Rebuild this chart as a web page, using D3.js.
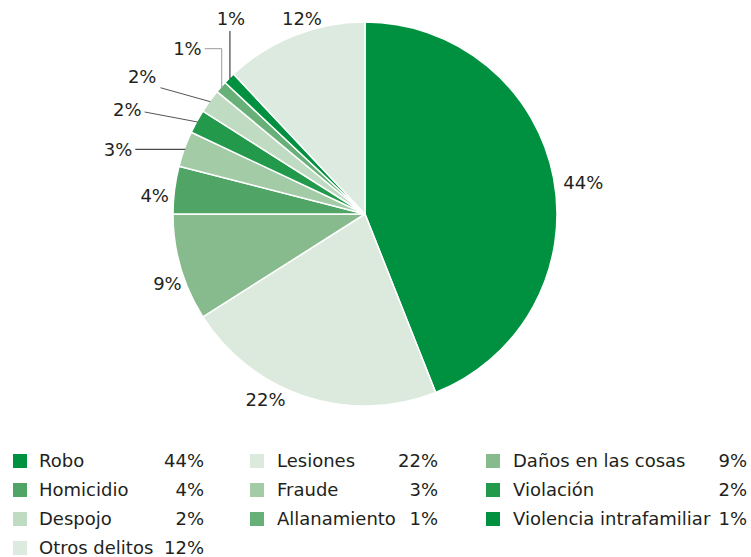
<!DOCTYPE html>
<html>
<head>
<meta charset="utf-8">
<script src="https://cdn.jsdelivr.net/npm/d3@7/dist/d3.min.js"></script>
<style>
  html, body { margin: 0; padding: 0; background: #ffffff; }
  svg { display: block; }
  text { font-family: "DejaVu Sans", sans-serif; font-size: 18px; fill: #231f20; }
</style>
</head>
<body>
<svg id="chart" width="751" height="557"></svg>
<script>
// Crime categories and their shares (%)
const categories = ["Robo", "Lesiones", "Daños en las cosas", "Homicidio", "Fraude",
  "Violación", "Despojo", "Allanamiento", "Violencia intrafamiliar", "Otros delitos"];
const shares = [44, 22, 9, 4, 3, 2, 2, 1, 1, 12];
const colors = ["#009140", "#dbeadd", "#87bb8e", "#50a566", "#a2cba6",
  "#23994c", "#bfdcc2", "#67b077", "#009140", "#dceadf"];

const data = categories.map((c, i) => ({ name: c, value: shares[i], color: colors[i] }));

const svg = d3.select("#chart");
const cx = 365, cy = 214, radius = 192;

const pie = d3.pie().value(d => d.value).sort(null);
const arcs = pie(data);

const arc = d3.arc().innerRadius(0).outerRadius(radius);
const labelArc = d3.arc().innerRadius(212).outerRadius(212);
const edgeArc = d3.arc().innerRadius(radius - 1).outerRadius(radius - 1);

const g = svg.append("g").attr("transform", `translate(${cx},${cy})`);

g.selectAll("path.slice")
  .data(arcs)
  .join("path")
  .attr("class", "slice")
  .attr("d", arc)
  .attr("fill", d => d.data.color)
  .attr("stroke", "#ffffff")
  .attr("stroke-width", 1.5)
  .attr("stroke-linejoin", "round");

// Label placement: small offsets for direct labels, leader paths for thin slices
const nudges = {
  "Robo": [10, 8], "Lesiones": [-34, -16], "Daños en las cosas": [6, 10],
  "Homicidio": [0, 8], "Otros delitos": [15, 2]
};
const leaders = {
  "Fraude": { pts: [[-50, 0]], anchor: "end", tdx: -3, tdy: 0, stroke: "#231f20" },
  "Violación": { pts: [[-53, -10]], anchor: "end", tdx: -3, tdy: -3, stroke: "#555" },
  "Despojo": { pts: [[-50, -14]], anchor: "end", tdx: -4, tdy: -11, stroke: "#555" },
  "Allanamiento": { pts: [[0, -39], [-17, -39]], anchor: "end", tdx: -3, tdy: 0, stroke: "#999" },
  "Violencia intrafamiliar": { pts: [[0, -48]], anchor: "middle", tdx: 1, tdy: -12, stroke: "#231f20" }
};

arcs.forEach(d => {
  const label = d.data.value + "%";
  const L = leaders[d.data.name];
  if (L) {
    const [sx, sy] = edgeArc.centroid(d);
    const pts = [[sx, sy]].concat(L.pts.map(p => [sx + p[0], sy + p[1]]));
    g.append("path")
      .attr("d", d3.line()(pts))
      .attr("fill", "none")
      .attr("stroke", L.stroke)
      .attr("stroke-width", 1);
    const end = pts[pts.length - 1];
    g.append("text")
      .attr("x", end[0] + L.tdx)
      .attr("y", end[1] + L.tdy)
      .attr("text-anchor", L.anchor)
      .attr("dominant-baseline", "central")
      .text(label);
  } else {
    const [x, y] = labelArc.centroid(d);
    const n = nudges[d.data.name] || [0, 0];
    g.append("text")
      .attr("x", x + n[0])
      .attr("y", y + n[1])
      .attr("text-anchor", "middle")
      .attr("dominant-baseline", "central")
      .text(label);
  }
});

// Legend: three columns, filled row by row
const colMarker = [13, 250, 486];
const colText = [39, 277, 513];
const colValue = [204, 438, 747];
const rowY = d3.scaleLinear().domain([0, 1]).range([467, 496]);

const legend = svg.append("g");
data.forEach((d, i) => {
  const col = i % 3, row = Math.floor(i / 3);
  const y = rowY(row);
  legend.append("rect")
    .attr("x", colMarker[col]).attr("y", y - 13)
    .attr("width", 14).attr("height", 14)
    .attr("fill", d.color);
  legend.append("text")
    .attr("x", colText[col]).attr("y", y)
    .text(d.name);
  legend.append("text")
    .attr("x", colValue[col]).attr("y", y)
    .attr("text-anchor", "end")
    .text(d.value + "%");
});
</script>
</body>
</html>
